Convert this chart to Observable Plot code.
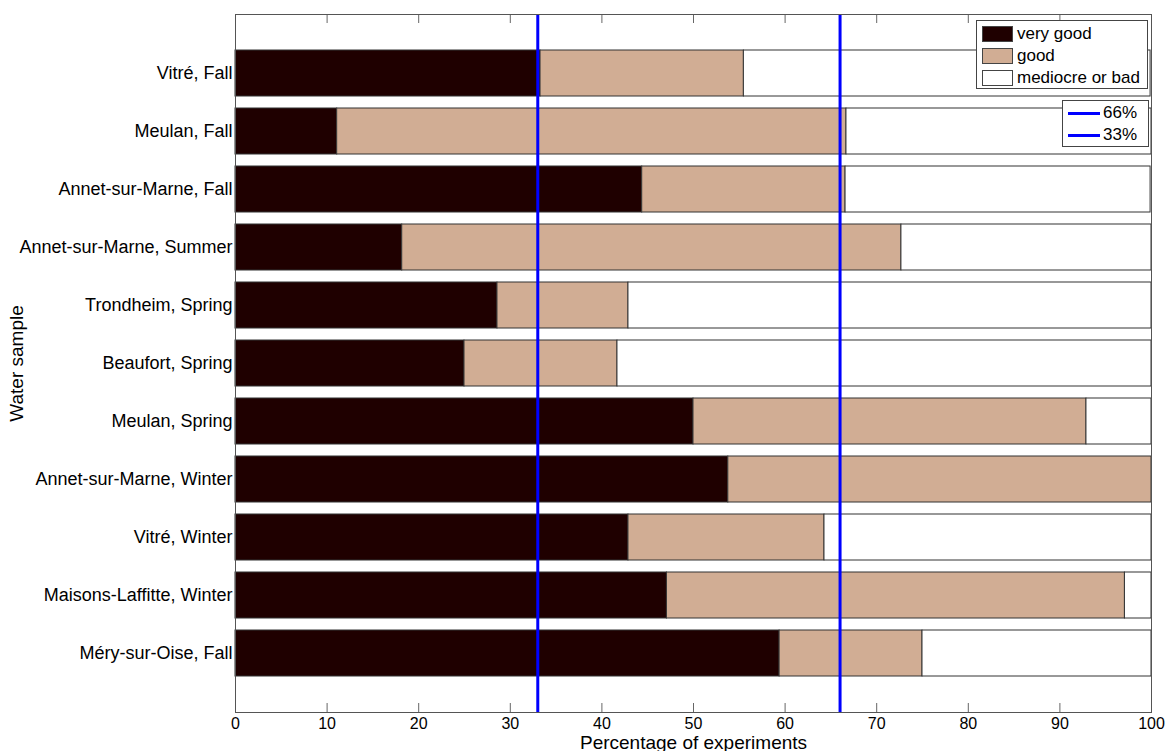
<!DOCTYPE html>
<html>
<head>
<meta charset="utf-8">
<script src="https://cdn.jsdelivr.net/npm/d3@7"></script>
<script src="https://cdn.jsdelivr.net/npm/@observablehq/plot@0.6"></script>
<style>
  body { margin: 0; background: #fff; font-family: 'Liberation Sans', Arial, sans-serif; }
  #wrap { position: relative; width: 1167px; height: 751px; overflow: hidden; }
  .legend { position: absolute; background: #fff; border: 1px solid #444; box-sizing: border-box; font-size: 17px; color: #000; }
  .row { display: flex; align-items: center; white-space: nowrap; }
  .sw { width: 31px; height: 16px; border: 1px solid #444; box-sizing: border-box; margin-right: 4px; }
  .ln { width: 32px; height: 3px; margin-right: 3px; }
</style>
</head>
<body>
<div id="wrap"></div>
<script>
const samples = [
  "Vitré, Fall",
  "Meulan, Fall",
  "Annet-sur-Marne, Fall",
  "Annet-sur-Marne, Summer",
  "Trondheim, Spring",
  "Beaufort, Spring",
  "Meulan, Spring",
  "Annet-sur-Marne, Winter",
  "Vitré, Winter",
  "Maisons-Laffitte, Winter",
  "Méry-sur-Oise, Fall"
];
const veryGood = [33.3, 11.1, 44.4, 18.2, 28.6, 25.0, 50.0, 53.8, 42.9, 47.1, 59.4];
const good     = [22.2, 55.6, 22.2, 54.5, 14.3, 16.7, 42.9, 46.2, 21.4, 50.0, 15.6];
const mediocre = [44.4, 33.3, 33.3, 27.3, 57.1, 58.3, 7.1, 0.0, 35.7, 2.9, 25.0];
const levels = ["very good", "good", "mediocre or bad"];
const levelColors = ["#1f0000", "#d1ad94", "#ffffff"];
const thresholds = [66, 33];
const thresholdLabels = ["66%", "33%"];
const xTicks = [0, 10, 20, 30, 40, 50, 60, 70, 80, 90, 100];

const series = [veryGood, good, mediocre];
const rows = [];
levels.forEach((lev, j) => samples.forEach((s, i) => rows.push({sample: s, level: lev, value: series[j][i]})));

const font = "'Liberation Sans', Arial, sans-serif";
const frameH = 751 - 14 - 39;
const tickLen = 9;
const chart = Plot.plot({
  width: 1167, height: 751,
  marginLeft: 235, marginRight: 16, marginTop: 14, marginBottom: 39,
  style: {fontFamily: font, fontSize: "16px", color: "#000", background: "#fff"},
  x: {domain: [0, 100]},
  y: {domain: samples, paddingInner: 0.2, paddingOuter: 0.6},
  color: {domain: levels, range: levelColors},
  marks: [
    Plot.barX(rows, {x: "value", y: "sample", fill: "level", stroke: "#333", strokeWidth: 1}),
    Plot.ruleX(thresholds, {stroke: "#0000ff", strokeWidth: 3}),
    Plot.ruleX(xTicks, {stroke: "#666", insetTop: frameH - tickLen}),
    Plot.ruleX(xTicks, {stroke: "#666", insetBottom: frameH - tickLen}),
    Plot.frame({stroke: "#555"}),
    Plot.axisX({anchor: "bottom", ticks: xTicks, tickSize: 0, tickPadding: 5, fontSize: 16, label: null}),
    Plot.axisX({anchor: "bottom", ticks: [], tickSize: 0, label: "Percentage of experiments", labelArrow: "none", labelAnchor: "center", labelOffset: 36, fontSize: 19}),
    Plot.axisY({anchor: "left", tickSize: 0, tickPadding: 3, fontSize: 18, label: null}),
    Plot.axisY({anchor: "left", ticks: [], tickSize: 0, label: "Water sample", labelArrow: "none", labelAnchor: "center", labelOffset: 226, fontSize: 19})
  ]
});
const wrap = document.getElementById("wrap");
wrap.appendChild(chart);

// legend 1: fill categories
const l1 = document.createElement("div");
l1.className = "legend";
Object.assign(l1.style, {left: "976px", top: "20px", width: "172px", height: "69px", paddingTop: "2px"});
levels.forEach((lev, j) => {
  const r = document.createElement("div");
  r.className = "row";
  r.style.height = "22px";
  r.style.paddingLeft = "5px";
  const sw = document.createElement("div");
  sw.className = "sw";
  sw.style.background = levelColors[j];
  r.appendChild(sw);
  const t = document.createElement("span");
  t.textContent = lev;
  r.appendChild(t);
  l1.appendChild(r);
});
wrap.appendChild(l1);

// legend 2: threshold lines
const l2 = document.createElement("div");
l2.className = "legend";
Object.assign(l2.style, {left: "1062px", top: "100px", width: "87px", height: "47px", paddingTop: "1px"});
thresholdLabels.forEach((lab) => {
  const r = document.createElement("div");
  r.className = "row";
  r.style.height = "22px";
  r.style.paddingLeft = "5px";
  const ln = document.createElement("div");
  ln.className = "ln";
  ln.style.background = "#0000ff";
  r.appendChild(ln);
  const t = document.createElement("span");
  t.textContent = lab;
  r.appendChild(t);
  l2.appendChild(r);
});
wrap.appendChild(l2);
</script>
</body>
</html>
